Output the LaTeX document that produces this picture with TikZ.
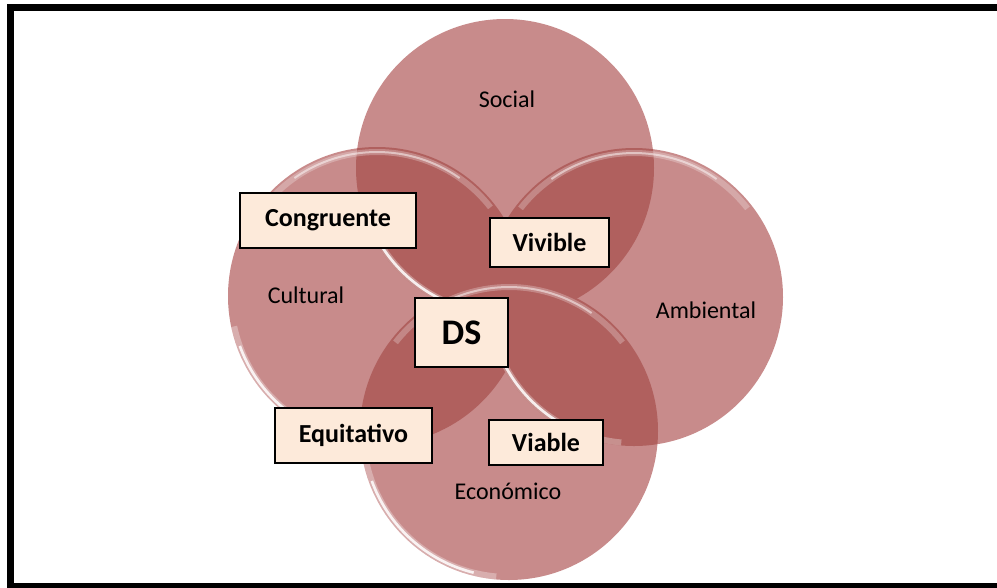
\documentclass[tikz,border=0pt]{standalone}
\usepackage{fontspec}
\setmainfont{Carlito}
\usetikzlibrary{calc}
\definecolor{ringlight}{RGB}{200,139,139}
\definecolor{ringdark}{RGB}{176,96,94}
\definecolor{boxfill}{RGB}{253,234,218}
\begin{document}
\begin{tikzpicture}[x=0.75pt,y=-0.75pt,
  lbl/.style={font=\fontsize{18}{20}\selectfont, text=black, anchor=base, inner sep=0pt},
  tagbox/.style={draw=black, line width=2pt, fill=boxfill, inner sep=0pt,
    font=\bfseries\fontsize{19.5}{22}\selectfont, text=black},
  glossy/.style={draw=white, line cap=butt},
  frame/.style={draw=black, line width=5.25pt}]
\useasboundingbox (0,0) rectangle (997,587);

% circle centres and common radius
\def\rr{149}
\coordinate (soc) at (505,168);
\coordinate (cul) at (377,296);
\coordinate (amb) at (634,297);
\coordinate (eco) at (509,431);

% the four discs
\foreach \c in {soc,cul,amb,eco}
  \fill[ringlight] (\c) circle (\rr);

% pairwise overlaps in the darker tone
\foreach \a/\b in {soc/cul,soc/amb,soc/eco,cul/amb,cul/eco,amb/eco}{
  \begin{scope}
    \clip (\a) circle (\rr);
    \fill[ringdark] (\b) circle (\rr);
  \end{scope}
}

% highlight arc: centre, radius, start and end angle on the page
\newcommand{\rimarc}[5][]{%
  \draw[glossy,#1] ($(#2)+(-#4:#3)$) arc[start angle=#4, end angle=#5, radius=#3*0.75pt];}

% glossy rim along the lower left edge of every disc
\foreach \c in {soc,cul,amb,eco}{
  \rimarc[line width=4.5pt, opacity=0.3]{\c}{146}{192}{265}
  \rimarc[line width=2pt, opacity=0.85]{\c}{146}{200}{256}
}
% soft highlight along the upper edge of the front discs
\foreach \c in {cul,amb,eco}{
  \rimarc[line width=4.5pt, opacity=0.25]{\c}{144}{38}{142}
  \rimarc[line width=1.5pt, opacity=0.5]{\c}{144}{55}{125}
}

% circle labels
\node[lbl] (tsoc) at (507,107) {Social};
\node[lbl] (tcul) at (306,303) {Cultural};
\node[lbl] (tamb) at (706,318) {Ambiental};
\node[lbl] (teco) at (508,499) {Económico};

% qualifiers in boxes
\node[tagbox, minimum width=132pt, minimum height=41.25pt] (cong) at (328,220.5) {Congruente};
\node[tagbox, minimum width=89.25pt, minimum height=36.75pt] (viv) at (549.5,242.5) {Vivible};
\node[tagbox, minimum width=69.75pt, minimum height=51.75pt, font=\bfseries\fontsize{27}{30}\selectfont] (ds) at (461.5,332.5) {DS};
\node[tagbox, minimum width=117.75pt, minimum height=41.25pt] (equ) at (353.5,435.5) {Equitativo};
\node[tagbox, minimum width=85.5pt, minimum height=33.75pt] (via) at (546,442.5) {Viable};

% outer frame
\draw[frame] (10.5,7.5) rectangle (1003,586.5);
\end{tikzpicture}
\end{document}
